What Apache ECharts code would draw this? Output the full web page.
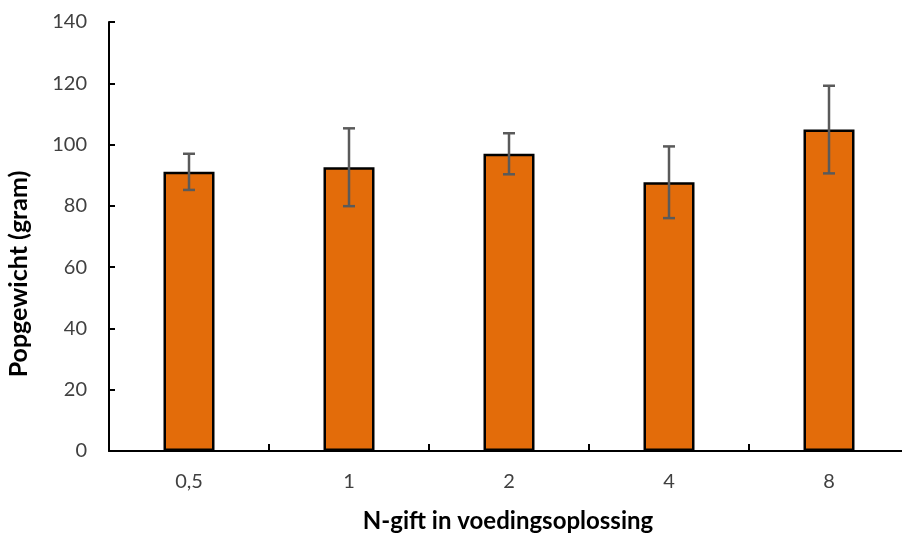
<!DOCTYPE html>
<html>
<head>
<meta charset="utf-8">
<script src="https://cdn.jsdelivr.net/npm/echarts@6/dist/echarts.min.js"></script>
<style>
  html, body { margin: 0; padding: 0; background: #ffffff; overflow: hidden; }
  #chart { width: 912px; height: 533px; }
</style>
</head>
<body>
<div id="chart"></div>
<script>
// N-dosage in the nutrient solution and mean plant weight with spread
const categories = ['0,5', '1', '2', '4', '8'];
const meanWeight = [91.1, 92.6, 97.0, 87.7, 104.9];
const errorSize = [5.9, 12.7, 6.7, 11.7, 14.3];
const yTicks = { min: 0, max: 140, step: 20 };

const errorData = categories.map((c, i) => [i, meanWeight[i] - errorSize[i], meanWeight[i] + errorSize[i]]);

const chart = echarts.init(document.getElementById('chart'), null, { renderer: 'canvas' });

const labelFont = 'Lato, "Open Sans", sans-serif';

chart.setOption({
  animation: false,
  backgroundColor: '#ffffff',
  grid: { left: 109, top: 22, width: 800, height: 429, containLabel: false },
  xAxis: {
    type: 'category',
    data: categories,
    axisLine: { lineStyle: { color: '#000000', width: 2 } },
    axisTick: { show: true, inside: true, length: 7, lineStyle: { color: '#000000', width: 2 } },
    axisLabel: { color: '#404040', fontSize: 20, fontFamily: labelFont, margin: 21 },
    splitLine: { show: false }
  },
  yAxis: {
    type: 'value',
    min: yTicks.min,
    max: yTicks.max,
    interval: yTicks.step,
    axisLine: { show: true, lineStyle: { color: '#000000', width: 2 } },
    axisTick: { show: true, inside: true, length: 6, lineStyle: { color: '#000000', width: 2 } },
    axisLabel: { color: '#404040', fontSize: 20, fontFamily: labelFont, margin: 22 },
    splitLine: { show: false }
  },
  graphic: [
    {
      type: 'text',
      x: 19, y: 274,
      rotation: Math.PI / 2,
      style: {
        text: 'Popgewicht (gram)',
        font: 'bold 25px ' + labelFont,
        fill: '#000000',
        align: 'center',
        verticalAlign: 'middle'
      }
    },
    {
      type: 'text',
      x: 508, y: 521,
      style: {
        text: 'N-gift in voedingsoplossing',
        font: 'bold 24px ' + labelFont,
        fill: '#000000',
        align: 'center',
        verticalAlign: 'middle'
      }
    }
  ],
  series: [
    {
      type: 'bar',
      data: meanWeight,
      barWidth: 51,
      itemStyle: { color: '#E36C0A', borderColor: '#000000', borderWidth: 2.5 }
    },
    {
      type: 'custom',
      data: errorData,
      z: 10,
      renderItem: function (params, api) {
        const x = api.value(0);
        const lo = api.coord([x, api.value(1)]);
        const hi = api.coord([x, api.value(2)]);
        const half = 6;
        const st = { stroke: '#5A5A5A', lineWidth: 2.5 };
        return {
          type: 'group',
          children: [
            { type: 'line', shape: { x1: lo[0], y1: lo[1], x2: hi[0], y2: hi[1] }, style: st },
            { type: 'line', shape: { x1: hi[0] - half, y1: hi[1], x2: hi[0] + half, y2: hi[1] }, style: st },
            { type: 'line', shape: { x1: lo[0] - half, y1: lo[1], x2: lo[0] + half, y2: lo[1] }, style: st }
          ]
        };
      }
    }
  ]
});
</script>
</body>
</html>
